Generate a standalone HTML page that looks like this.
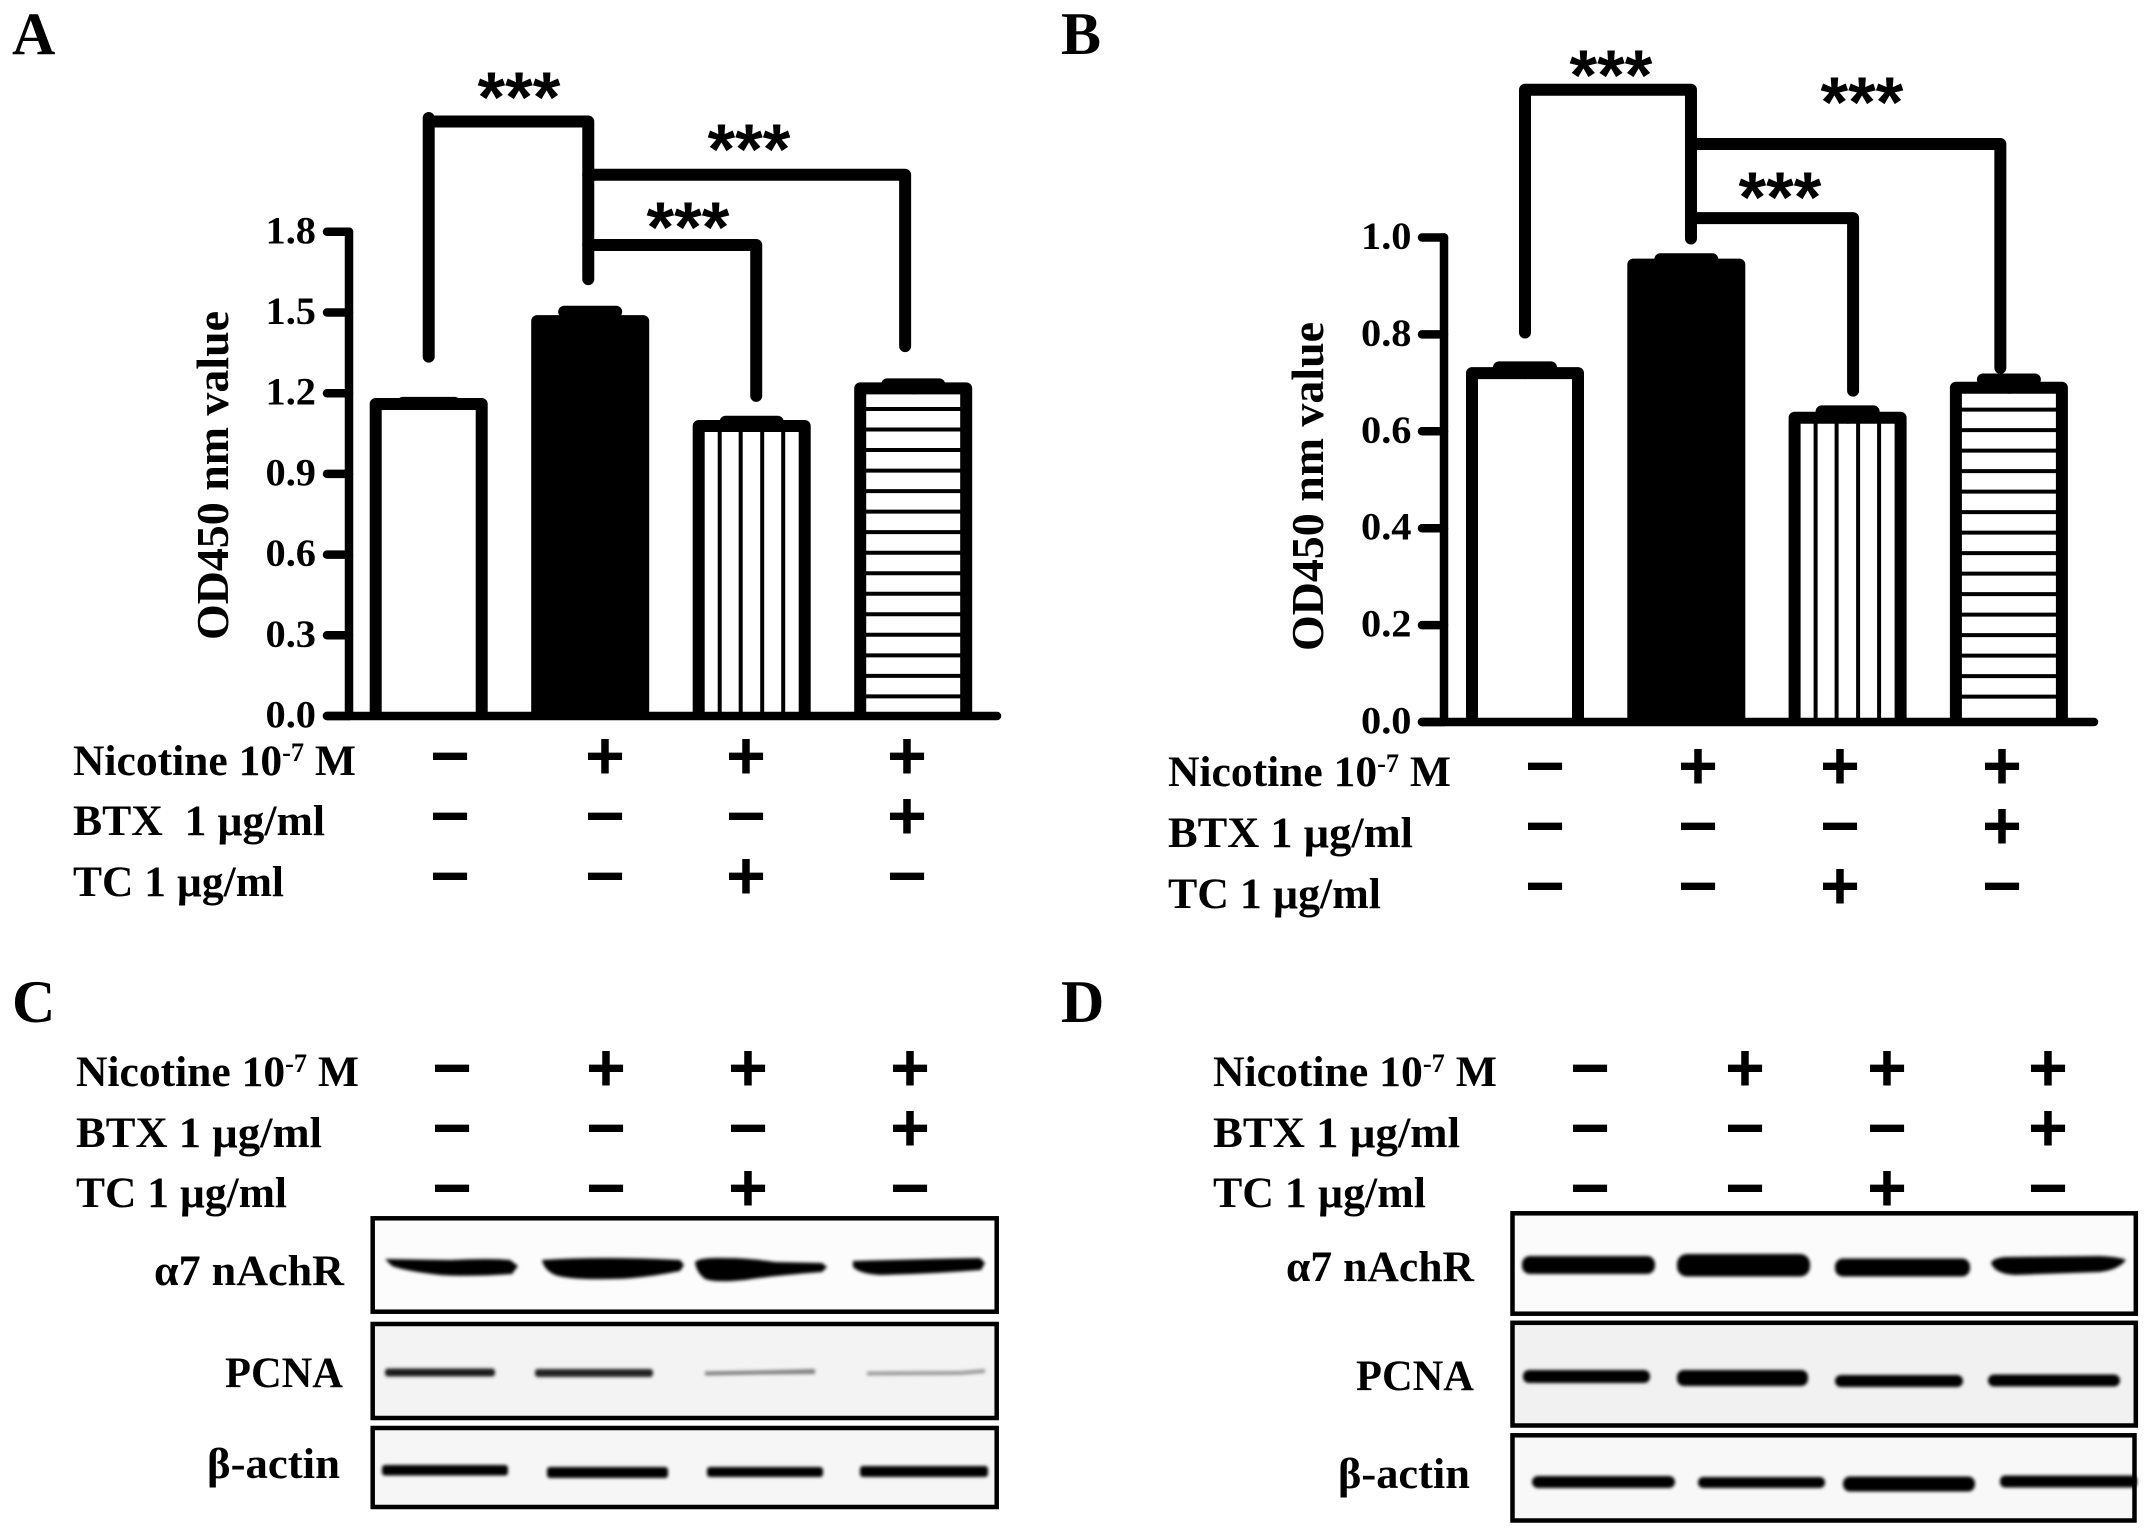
<!DOCTYPE html>
<html lang="en">
<head>
<meta charset="utf-8">
<title>Figure: Nicotine, BTX and TC effects</title>
<style>
html,body{margin:0;padding:0;background:#fff;width:2150px;height:1535px;overflow:hidden}
svg{display:block}
text{font-family:"Liberation Serif","DejaVu Serif",serif;font-weight:bold;fill:#000}
.lbl{font-size:43px}
.sup{font-size:26px}
.letter{font-size:60px}
.tick{font-size:39px}
.title{font-size:46px}
.frame{stroke:#000;stroke-width:4.5}
</style>
</head>
<body>
<svg id="fig" xmlns="http://www.w3.org/2000/svg" width="2150" height="1535" viewBox="0 0 2150 1535">
  <defs>
    <filter id="soft" x="-10%" y="-60%" width="120%" height="220%"><feGaussianBlur stdDeviation="1.5"/></filter>
  </defs>
  <rect width="2150" height="1535" fill="#fff"/>

  <text class="letter" x="12" y="54">A</text>
  <text class="letter" x="1061" y="54">B</text>
  <text class="letter" x="12" y="1022">C</text>
  <text class="letter" x="1061" y="1022">D</text>

  <!-- Row labels -->
  <g>
    <text class="lbl" x="73" y="775" textLength="283" lengthAdjust="spacingAndGlyphs">Nicotine 10<tspan class="sup" dy="-14">-7</tspan><tspan dy="14"> M</tspan></text>
    <text class="lbl" x="73" y="835" textLength="252" lengthAdjust="spacingAndGlyphs">BTX&#160; 1 µg/ml</text>
    <text class="lbl" x="73" y="896" textLength="211" lengthAdjust="spacingAndGlyphs">TC 1 µg/ml</text>
  </g>
  <g>
    <text class="lbl" x="1168" y="786" textLength="283" lengthAdjust="spacingAndGlyphs">Nicotine 10<tspan class="sup" dy="-14">-7</tspan><tspan dy="14"> M</tspan></text>
    <text class="lbl" x="1168" y="847" textLength="245" lengthAdjust="spacingAndGlyphs">BTX 1 µg/ml</text>
    <text class="lbl" x="1168" y="908" textLength="213" lengthAdjust="spacingAndGlyphs">TC 1 µg/ml</text>
  </g>
  <g>
    <text class="lbl" x="76" y="1086" textLength="283" lengthAdjust="spacingAndGlyphs">Nicotine 10<tspan class="sup" dy="-14">-7</tspan><tspan dy="14"> M</tspan></text>
    <text class="lbl" x="76" y="1147" textLength="246" lengthAdjust="spacingAndGlyphs">BTX 1 µg/ml</text>
    <text class="lbl" x="76" y="1207" textLength="211" lengthAdjust="spacingAndGlyphs">TC 1 µg/ml</text>
  </g>
  <g>
    <text class="lbl" x="1213" y="1086" textLength="284" lengthAdjust="spacingAndGlyphs">Nicotine 10<tspan class="sup" dy="-14">-7</tspan><tspan dy="14"> M</tspan></text>
    <text class="lbl" x="1213" y="1147" textLength="247" lengthAdjust="spacingAndGlyphs">BTX 1 µg/ml</text>
    <text class="lbl" x="1213" y="1207" textLength="213" lengthAdjust="spacingAndGlyphs">TC 1 µg/ml</text>
  </g>

  <!-- Panel C blots -->
  <g>
    <rect class="frame" fill="#fcfcfc" x="372.7" y="1218.3" width="624" height="93.4"/>
    <rect class="frame" fill="#f3f3f3" x="372.7" y="1324" width="624" height="94"/>
    <rect class="frame" fill="#f6f6f6" x="372.7" y="1428" width="624" height="79"/>
    <g filter="url(#soft)">
      <path fill="#000" d="M385 1259L450 1260Q490 1258 510 1260L518 1266L512 1274Q470 1277 440 1275Q405 1271 392 1266Z"/>
      <path fill="#000" d="M542 1260Q600 1256 680 1260L684 1265L680 1271Q640 1279 610 1279Q570 1280 555 1275Q544 1270 542 1260Z"/>
      <path fill="#000" d="M695 1262Q700 1257 725 1258Q750 1258 775 1262L822 1263L827 1267L822 1272Q770 1276 745 1280Q715 1283 705 1279Q696 1272 695 1262Z"/>
      <path fill="#000" d="M853 1261Q920 1259 980 1258L985 1263L981 1270Q930 1274 880 1275Q860 1274 853 1267Z"/>
      <rect x="385" y="1368.5" width="110" height="8" rx="3" fill="#1c1c1c"/>
      <rect x="535" y="1369" width="118" height="8" rx="3" fill="#222"/>
      <path fill="#808080" d="M705 1371.5L760 1370.5L815 1369L815 1374L760 1374.5L705 1375.5Z"/>
      <path fill="#9a9a9a" d="M867 1371.5L960 1371L985 1369L985 1373L960 1375L867 1375.5Z"/>
      <rect x="382" y="1465" width="126" height="10.5" rx="3" fill="#000"/>
      <rect x="547" y="1467" width="121" height="11" rx="3" fill="#000"/>
      <rect x="707" y="1467" width="116" height="10" rx="3" fill="#000"/>
      <rect x="860" y="1466" width="128" height="11" rx="3" fill="#000"/>
    </g>
    <text class="lbl" x="154" y="1285" textLength="190" lengthAdjust="spacingAndGlyphs">α7 nAchR</text>
    <text class="lbl" x="225" y="1387" textLength="118" lengthAdjust="spacingAndGlyphs">PCNA</text>
    <text class="lbl" x="207" y="1478" textLength="133" lengthAdjust="spacingAndGlyphs">β-actin</text>
  </g>

  <!-- Panel D blots -->
  <g>
    <rect class="frame" fill="#fbfbfb" x="1512.5" y="1213.3" width="623.3" height="100.4"/>
    <rect class="frame" fill="#f1f1f1" x="1512.5" y="1322.8" width="623.3" height="102.7"/>
    <rect class="frame" fill="#f8f8f8" x="1512.5" y="1435.3" width="622" height="85.2"/>
    <g filter="url(#soft)">
      <rect x="1522" y="1256" width="133" height="18" rx="8" fill="#000"/>
      <rect x="1677" y="1254" width="133" height="22.5" rx="10" fill="#000"/>
      <rect x="1835" y="1258.5" width="135" height="18" rx="8" fill="#000"/>
      <path fill="#000" d="M1991 1263Q1993 1258 2005 1257L2100 1256Q2120 1257 2126 1260Q2118 1270 2100 1272L2015 1275Q1995 1274 1991 1263Z"/>
      <rect x="1523" y="1370" width="127" height="13" rx="6" fill="#050505"/>
      <rect x="1677" y="1370" width="131" height="16" rx="7" fill="#000"/>
      <rect x="1835" y="1375" width="128" height="12" rx="6" fill="#050505"/>
      <rect x="1988" y="1374.5" width="132" height="12" rx="6" fill="#050505"/>
      <rect x="1532" y="1476" width="143" height="12" rx="6" fill="#000"/>
      <rect x="1698" y="1477" width="127" height="11" rx="5" fill="#000"/>
      <rect x="1843" y="1476.5" width="132" height="15" rx="7" fill="#000"/>
      <rect x="2000" y="1475.5" width="137" height="12" rx="5" fill="#000"/>
    </g>
    <text class="lbl" x="1286" y="1281" textLength="188" lengthAdjust="spacingAndGlyphs">α7 nAchR</text>
    <text class="lbl" x="1356" y="1390" textLength="118" lengthAdjust="spacingAndGlyphs">PCNA</text>
    <text class="lbl" x="1338" y="1488" textLength="132" lengthAdjust="spacingAndGlyphs">β-actin</text>
  </g>
</svg>

<script>
// Chart data
const groupNames = ['control', 'nicotine', 'nicotine-tc', 'nicotine-btx'];
const barStyles = ['open', 'solid', 'vertical', 'horizontal'];

const valuesA = [1.16, 1.468, 1.078, 1.218];
const errorsA = [0.004, 0.035, 0.016, 0.015];
const tickValuesA = [0.0, 0.3, 0.6, 0.9, 1.2, 1.5, 1.8];
const tickLabelsA = ['0.0', '0.3', '0.6', '0.9', '1.2', '1.5', '1.8'];

const valuesB = [0.72, 0.944, 0.628, 0.69];
const errorsB = [0.012, 0.011, 0.013, 0.017];
const tickValuesB = [0.0, 0.2, 0.4, 0.6, 0.8, 1.0];
const tickLabelsB = ['0.0', '0.2', '0.4', '0.6', '0.8', '1.0'];

// Significance brackets, heights in axis units
const bracketTopA = [2.21, 2.012, 1.751];
const bracketFootA = [1.336, 1.375, 1.19];
const stemFootA = 1.624;
const bracketTopB = [1.305, 1.193, 1.04];
const bracketFootB = [0.804, 0.731, 0.684];
const stemFootB = 0.998;

// Treatment rows
const nicotineRow = ['−', '+', '+', '+'];
const btxRow = ['−', '−', '−', '+'];
const tcRow = ['−', '−', '+', '−'];

const SVGNS = 'http://www.w3.org/2000/svg';
const fig = document.getElementById('fig');

function mk(tag, parent, attrs) {
  const el = document.createElementNS(SVGNS, tag);
  for (const k in attrs) el.setAttribute(k, attrs[k]);
  parent.appendChild(el);
  return el;
}

function drawChart(cfg) {
  const y = v => cfg.y0 - v * cfg.unit;
  const x = i => cfg.x0 + i * cfg.step;
  const group = mk('g', fig, {});
  
  
  const stroke = { stroke: '#000', fill: 'none', 'stroke-linecap': 'round', 'stroke-linejoin': 'round' };

  // bars
  cfg.values.forEach((v, i) => {
    const cx = x(i), halfW = 53, top = y(v), kind = barStyles[i];
    const bar = mk('g', group, {});
    
    
    mk('path', bar, Object.assign({}, stroke, {
      d: `M${cx - halfW} ${cfg.y0}V${top}H${cx + halfW}V${cfg.y0}`,
      fill: kind === 'solid' ? '#000' : '#fff', 'stroke-width': 12, 'stroke-linecap': 'butt'
    }));
    if (kind === 'vertical') {
      [-32, -11, 10.5, 31.5].forEach(dx => {
        mk('line', bar, { x1: cx + dx, x2: cx + dx, y1: top, y2: cfg.y0, stroke: '#000', 'stroke-width': 4 });
      });
    }
    if (kind === 'horizontal') {
      for (let ly = cfg.y0 - cfg.hatchStart; ly > top + 7; ly -= cfg.hatchStep) {
        mk('line', bar, { x1: cx - halfW, x2: cx + halfW, y1: ly, y2: ly, stroke: '#000', 'stroke-width': 4 });
      }
    }
    const capY = y(v + cfg.errors[i]);
    const cap = mk('path', bar, Object.assign({}, stroke, {
      d: `M${cx} ${top}V${capY}M${cx - 26} ${capY}H${cx + 26}`, 'stroke-width': 12
    }));
    
    
  });

  // y axis and ticks
  const axis = mk('g', group, {});
  
  
  const topTick = cfg.ticks[cfg.ticks.length - 1];
  mk('line', axis, Object.assign({}, stroke, { x1: cfg.axisX, x2: cfg.axisX, y1: y(topTick), y2: cfg.y0, 'stroke-width': 8.5 }));
  cfg.ticks.forEach((t, i) => {
    mk('line', axis, Object.assign({}, stroke, { x1: cfg.axisX - 22, x2: cfg.axisX, y1: y(t), y2: y(t), 'stroke-width': 8.5 }));
    const lab = mk('text', axis, { class: 'tick', x: cfg.tickLabelX, y: y(t) + 11.5, textLength: 50.5, lengthAdjust: 'spacingAndGlyphs' });
    lab.textContent = cfg.tickLabels[i];
    
    
  });

  // x axis
  const xAxis = mk('line', group, Object.assign({}, stroke, { x1: cfg.axisX - 22, x2: cfg.axisEnd, y1: cfg.y0, y2: cfg.y0, 'stroke-width': 8.5 }));
  
  

  // axis title
  const title = mk('text', group, { class: 'title', transform: `translate(${cfg.titleX},${cfg.titleY}) rotate(-90)`, textLength: 329, lengthAdjust: 'spacingAndGlyphs' });
  title.textContent = 'OD450 nm value';
  
  

  // brackets
  const stemX = x(cfg.stemIdx);
  const bTop = cfg.bracketTop, bFoot = cfg.bracketFoot;
  const b1 = mk('path', group, Object.assign({}, stroke, {
    d: `M${x(0)} ${y(bFoot[0])}V${y(bTop[0]) - cfg.overshoot}M${x(0)} ${y(bTop[0])}H${stemX}V${y(cfg.stemFoot)}`, 'stroke-width': 12 }));
  
  
  const b2 = mk('path', group, Object.assign({}, stroke, {
    d: `M${stemX} ${y(bTop[1])}H${x(cfg.farIdx)}V${y(bFoot[1])}`, 'stroke-width': 12 }));
  
  
  const b3 = mk('path', group, Object.assign({}, stroke, {
    d: `M${stemX} ${y(bTop[2])}H${x(cfg.midIdx)}V${y(bFoot[2])}`, 'stroke-width': 12 }));
  
  

  // significance stars
  cfg.stars.forEach(s => {
    const st = mk('text', group, {
      x: s[0], y: s[1] + 39.5, 'text-anchor': 'middle', 'font-size': 71,
      style: 'font-family:"Liberation Sans",sans-serif;font-weight:bold'
    });
    st.textContent = '***';
    
    
  });
}

function drawSigns(name, cols, rowYs) {
  const group = mk('g', fig, {});
  
  
  [nicotineRow, btxRow, tcRow].forEach((row, r) => {
    row.forEach((sign, c) => {
      const t = mk('text', group, {
        x: cols[c], y: rowYs[r] + 23, 'text-anchor': 'middle', 'font-size': 68,
        style: 'font-family:"Liberation Sans",sans-serif;font-weight:bold'
      });
      t.textContent = sign;
      
      
    });
  });
}

drawChart({
  name: 'panel-a-chart', values: valuesA, errors: errorsA, ticks: tickValuesA, tickLabels: tickLabelsA,
  y0: 716, unit: 269, x0: 428.7, step: 161.5, axisX: 349, axisEnd: 997, tickLabelX: 265.5,
  titleX: 228, titleY: 640, hatchStart: 19.6, hatchStep: 20.53, overshoot: 3.5,
  bracketTop: bracketTopA, bracketFoot: bracketFootA, stemFoot: stemFootA,
  stemIdx: 0.988, farIdx: 2.95, midIdx: 2.028,
  stars: [[519, 82], [749, 134], [688, 212]]
});
drawChart({
  name: 'panel-b-chart', values: valuesB, errors: errorsB, ticks: tickValuesB, tickLabels: tickLabelsB,
  y0: 722, unit: 484.5, x0: 1525, step: 161.3, axisX: 1444, axisEnd: 2094, tickLabelX: 1361,
  titleX: 1323, titleY: 651, hatchStart: 25.4, hatchStep: 20.5, overshoot: 0,
  bracketTop: bracketTopB, bracketFoot: bracketFootB, stemFoot: stemFootB,
  stemIdx: 1.029, farIdx: 2.947, midIdx: 2.034,
  stars: [[1611, 60], [1862, 87], [1780, 182]]
});
drawSigns('panel-a-treatment-signs', [450, 605, 746, 907], [756, 816, 876]);
drawSigns('panel-b-treatment-signs', [1545, 1698, 1840, 2002], [766, 826, 886]);
drawSigns('panel-c-treatment-signs', [452, 606, 748, 910], [1068, 1128, 1188]);
drawSigns('panel-d-treatment-signs', [1590, 1745, 1887, 2048], [1068, 1128, 1188]);
</script>
</body>
</html>
